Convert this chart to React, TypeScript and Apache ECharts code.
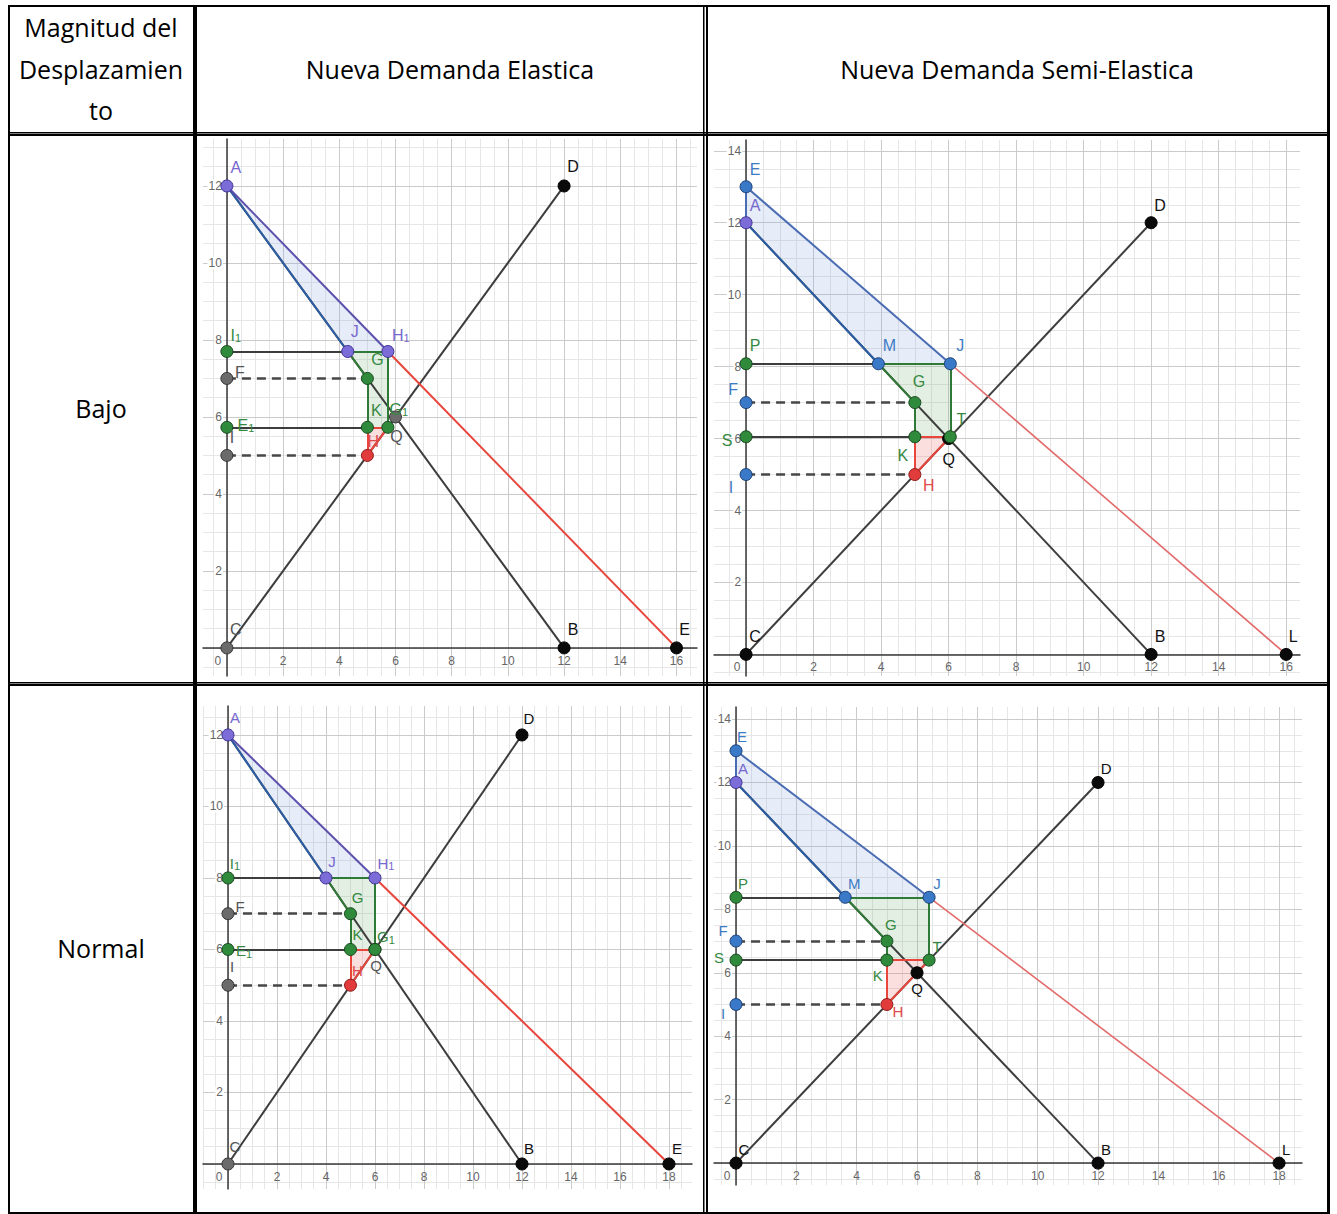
import React, { useEffect, useRef } from 'react';
import * as echarts from 'echarts';

type Pt = [string, number, number];
type Seg = [string, string, string];
type Area = [string[], string];

// ---------- tick labels ----------
const xTicks16 = [0, 2, 4, 6, 8, 10, 12, 14, 16];
const xTicks18 = [0, 2, 4, 6, 8, 10, 12, 14, 16, 18];
const yTicks12 = [2, 4, 6, 8, 10, 12];
const yTicks14 = [2, 4, 6, 8, 10, 12, 14];

// ---------- Panel 1: Bajo / Nueva Demanda Elastica ----------
const bajoElasticaPoints: Pt[] = [
  ['A', 0, 12], ['D', 12, 12], ['B', 12, 0], ['E', 16, 0], ['C', 0, 0],
  ['J', 4.3, 7.7], ['H1', 5.73, 7.7], ['I1', 0, 7.7], ['F', 0, 7], ['G', 5, 7],
  ['E1', 0, 5.73], ['K', 5, 5.73], ['Q', 6, 6], ['G1', 5.73, 5.73], ['I', 0, 5], ['H', 5, 5],
];
const bajoElasticaRoles: Record<string, string> = {
  A: 'purple', D: 'black', B: 'black', E: 'black', C: 'gray', J: 'purple', H1: 'purple', I1: 'green',
  F: 'gray', G: 'green', E1: 'green', K: 'green', G1: 'green', Q: 'gray', I: 'gray', H: 'red',
};
const bajoElasticaSegments: Seg[] = [
  ['C', 'D', 'dark'], ['A', 'B', 'dark'], ['A', 'J', 'blue'], ['J', 'G', 'green'],
  ['A', 'H1', 'purple'], ['H1', 'E', 'red'],
  ['I1', 'J', 'dark'], ['J', 'H1', 'green'], ['H1', 'G1', 'green'],
  ['G', 'K', 'green'], ['E1', 'K', 'dark'], ['K', 'G1', 'red'], ['K', 'H', 'red'], ['H', 'G1', 'red'],
  ['F', 'G', 'dash'], ['I', 'H', 'dash'],
];
const bajoElasticaAreas: Area[] = [
  [['A', 'J', 'H1'], 'blue'], [['J', 'H1', 'G1', 'K', 'G'], 'green'], [['K', 'G1', 'H'], 'red'],
];
const bajoElasticaLabelOffsets: Record<string, [number, number]> = {
  A: [9, -18], D: [9, -19], B: [9, -18], E: [8, -18], C: [9, -18], J: [7, -20], H1: [13, -16],
  I1: [9, -16], F: [13, -6], G: [10, -19], E1: [19, -2], K: [9, -17], G1: [11, -18], Q: [1, 20],
  I: [5, -18], H: [6, -14],
};

// ---------- Panel 2: Bajo / Nueva Demanda Semi-Elastica ----------
const bajoSemiPoints: Pt[] = [
  ['E', 0, 13], ['A', 0, 12], ['D', 12, 12], ['B', 12, 0], ['L', 16, 0], ['C', 0, 0],
  ['P', 0, 8.08], ['M', 3.92, 8.08], ['J', 6.05, 8.08], ['F', 0, 7], ['G', 5, 7],
  ['S', 0, 6.05], ['K', 5, 6.05], ['Q', 6, 6], ['T', 6.05, 6.05], ['I', 0, 5], ['H', 5, 5],
];
const bajoSemiRoles: Record<string, string> = {
  E: 'blue', A: 'purple', D: 'black', B: 'black', L: 'black', C: 'black', P: 'green', M: 'blue',
  J: 'blue', F: 'blue', G: 'green', S: 'green', K: 'green', T: 'green', Q: 'black', I: 'blue', H: 'red',
};
const bajoSemiSegments: Seg[] = [
  ['C', 'D', 'dark'], ['A', 'B', 'dark'], ['A', 'M', 'blue'], ['M', 'G', 'green'],
  ['E', 'J', 'blue2'], ['J', 'L', 'redLight'], ['E', 'A', 'blue2'],
  ['P', 'M', 'dark'], ['M', 'J', 'green'], ['J', 'T', 'green'],
  ['G', 'K', 'green'], ['S', 'K', 'dark'], ['K', 'T', 'red'], ['K', 'H', 'red'], ['H', 'T', 'red'],
  ['F', 'G', 'dash'], ['I', 'H', 'dash'],
];
const bajoSemiAreas: Area[] = [
  [['E', 'J', 'M', 'A'], 'blue'], [['M', 'J', 'T', 'K', 'G'], 'green'], [['K', 'T', 'H'], 'red'],
];
const bajoSemiLabelOffsets: Record<string, [number, number]> = {
  E: [9, -17], A: [9, -17], D: [9, -17], B: [9, -18], L: [7, -18], C: [9, -18], P: [9, -18],
  M: [11, -18], J: [10, -18], F: [-13, -13], G: [4, -21], T: [11, -17], S: [-19, 4], K: [-12, 19],
  Q: [0, 21], I: [-15, 13], H: [14, 11],
};

// ---------- Panel 3: Normal / Nueva Demanda Elastica ----------
const normalElasticaPoints: Pt[] = [
  ['A', 0, 12], ['D', 12, 12], ['B', 12, 0], ['E', 18, 0], ['C', 0, 0],
  ['J', 4, 8], ['H1', 6, 8], ['I1', 0, 8], ['F', 0, 7], ['G', 5, 7],
  ['E1', 0, 6], ['K', 5, 6], ['Q', 6, 6], ['G1', 6, 6], ['I', 0, 5], ['H', 5, 5],
];
const normalElasticaRoles: Record<string, string> = {
  A: 'purple', D: 'black', B: 'black', E: 'black', C: 'gray', J: 'purple', H1: 'purple', I1: 'green',
  F: 'gray', G: 'green', E1: 'green', K: 'green', G1: 'green', Q: 'gray', I: 'gray', H: 'red',
};
const normalElasticaSegments: Seg[] = [
  ['C', 'D', 'dark'], ['A', 'B', 'dark'], ['A', 'J', 'blue'], ['J', 'G', 'green'],
  ['A', 'H1', 'purple'], ['H1', 'E', 'red'],
  ['I1', 'J', 'dark'], ['J', 'H1', 'green'], ['H1', 'G1', 'green'],
  ['G', 'K', 'green'], ['E1', 'K', 'dark'], ['K', 'G1', 'red'], ['K', 'H', 'red'], ['H', 'G1', 'red'],
  ['F', 'G', 'dash'], ['I', 'H', 'dash'],
];
const normalElasticaAreas: Area[] = [
  [['A', 'J', 'H1'], 'blue'], [['J', 'H1', 'G1', 'K', 'G'], 'green'], [['K', 'G1', 'H'], 'red'],
];
const normalElasticaLabelOffsets: Record<string, [number, number]> = {
  A: [7, -17], D: [7, -16], B: [7, -15], E: [8, -15], C: [7, -17], J: [6, -16], H1: [11, -14],
  I1: [7, -14], F: [12, -7], G: [7, -16], E1: [16, 2], K: [7, -14], G1: [11, -12], Q: [1, 17],
  I: [4, -18], H: [7, -14],
};

// ---------- Panel 4: Normal / Nueva Demanda Semi-Elastica ----------
const normalSemiPoints: Pt[] = [
  ['E', 0, 13], ['A', 0, 12], ['D', 12, 12], ['B', 12, 0], ['L', 18, 0], ['C', 0, 0],
  ['P', 0, 8.38], ['M', 3.62, 8.38], ['J', 6.4, 8.38], ['F', 0, 7], ['G', 5, 7],
  ['S', 0, 6.4], ['K', 5, 6.4], ['T', 6.4, 6.4], ['Q', 6, 6], ['I', 0, 5], ['H', 5, 5],
];
const normalSemiRoles: Record<string, string> = {
  E: 'blue', A: 'purple', D: 'black', B: 'black', L: 'black', C: 'black', P: 'green', M: 'blue',
  J: 'blue', F: 'blue', G: 'green', S: 'green', K: 'green', T: 'green', Q: 'black', I: 'blue', H: 'red',
};
const normalSemiSegments: Seg[] = [
  ['C', 'D', 'dark'], ['A', 'B', 'dark'], ['A', 'M', 'blue'], ['M', 'G', 'green'],
  ['E', 'J', 'blue2'], ['J', 'L', 'redLight'], ['E', 'A', 'blue2'],
  ['P', 'M', 'dark'], ['M', 'J', 'green'], ['J', 'T', 'green'],
  ['G', 'K', 'green'], ['S', 'K', 'dark'], ['K', 'T', 'red'], ['K', 'H', 'red'], ['H', 'T', 'red'],
  ['F', 'G', 'dash'], ['I', 'H', 'dash'],
];
const normalSemiAreas: Area[] = [
  [['E', 'J', 'M', 'A'], 'blue'], [['M', 'J', 'T', 'K', 'G'], 'green'], [['K', 'T', 'H'], 'red'],
];
const normalSemiLabelOffsets: Record<string, [number, number]> = {
  E: [6, -14], A: [7, -13], D: [8, -13], B: [8, -13], L: [7, -13], C: [8, -13], P: [7, -13],
  M: [9, -13], J: [8, -13], F: [-13, -10], G: [4, -16], T: [8, -13], S: [-17, -2], K: [-9, 16],
  Q: [0, 16], I: [-13, 9], H: [11, 7],
};

// ---------- table texts ----------
const headerLines = ['Magnitud del', 'Desplazamien', 'to'];
const columnTitles = ['Nueva Demanda Elastica', 'Nueva Demanda Semi-Elastica'];
const rowTitles = ['Bajo', 'Normal'];

// ---------- styles ----------
const pointStyles: Record<string, { fill: string; border: string; text: string }> = {
  purple: { fill: '#7b6cd8', border: '#3e3192', text: '#7668cf' },
  blue: { fill: '#3a78c8', border: '#1c4177', text: '#3d7cc4' },
  green: { fill: '#2f8a3c', border: '#17471d', text: '#35893f' },
  gray: { fill: '#6b6b6b', border: '#333333', text: '#555555' },
  black: { fill: '#0a0a0a', border: '#000000', text: '#111111' },
  red: { fill: '#e23b3b', border: '#8c1c1c', text: '#e04a4a' },
};
const segStyles: Record<string, any> = {
  dark: { color: '#3d3d3d', width: 2, type: 'solid' },
  blue: { color: '#2b5ea6', width: 2, type: 'solid' },
  blue2: { color: '#4a6cb3', width: 2, type: 'solid' },
  purple: { color: '#5d50ad', width: 2, type: 'solid' },
  red: { color: '#e8453c', width: 2, type: 'solid' },
  redLight: { color: '#e36b6b', width: 1.6, type: 'solid' },
  green: { color: '#2f7a36', width: 2, type: 'solid' },
  dash: { color: '#474747', width: 2.5, type: [9, 6] },
};
const areaFills: Record<string, string> = {
  blue: 'rgba(140,170,225,0.22)',
  green: 'rgba(120,175,120,0.20)',
  red: 'rgba(235,110,110,0.22)',
};

const panels = [
  {
    points: bajoElasticaPoints, roles: bajoElasticaRoles, segments: bajoElasticaSegments,
    areas: bajoElasticaAreas, offsets: bajoElasticaLabelOffsets,
    xRange: [-0.85, 16.73], yRange: [-0.73, 13.22], xTicks: xTicks16, yTicks: yTicks12,
    box: { left: 203, top: 139, width: 494, height: 537 }, fs: 16,
  },
  {
    points: bajoSemiPoints, roles: bajoSemiRoles, segments: bajoSemiSegments,
    areas: bajoSemiAreas, offsets: bajoSemiLabelOffsets,
    xRange: [-0.95, 16.41], yRange: [-0.6, 14.3], xTicks: xTicks16, yTicks: yTicks14,
    box: { left: 714, top: 140, width: 586, height: 536 }, fs: 16,
  },
  {
    points: normalElasticaPoints, roles: normalElasticaRoles, segments: normalElasticaSegments,
    areas: normalElasticaAreas, offsets: normalElasticaLabelOffsets,
    xRange: [-1.02, 18.94], yRange: [-0.7, 12.81], xTicks: xTicks18, yTicks: yTicks12,
    box: { left: 203, top: 706, width: 489, height: 483 }, fs: 15,
  },
  {
    points: normalSemiPoints, roles: normalSemiRoles, segments: normalSemiSegments,
    areas: normalSemiAreas, offsets: normalSemiLabelOffsets,
    xRange: [-0.73, 18.76], yRange: [-0.69, 14.38], xTicks: xTicks18, yTicks: yTicks14,
    box: { left: 714, top: 707, width: 588, height: 478 }, fs: 15,
  },
];

function labelText(name: string) {
  const m = name.match(/^([A-Z])(\d+)$/);
  if (m) return `{b|${m[1]}}{s|${m[2]}}`;
  return `{b|${name}}`;
}

function gridLines(xr: number[], yr: number[], major: boolean) {
  const out: any[] = [];
  const step = 0.5;
  for (let v = Math.ceil(xr[0] / step) * step; v <= xr[1]; v += step) {
    const isMajor = Math.abs(v / 2 - Math.round(v / 2)) < 1e-6;
    if (isMajor === major) out.push({ coords: [[v, yr[0]], [v, yr[1]]] });
  }
  for (let v = Math.ceil(yr[0] / step) * step; v <= yr[1]; v += step) {
    const isMajor = Math.abs(v / 2 - Math.round(v / 2)) < 1e-6;
    if (isMajor === major) out.push({ coords: [[xr[0], v], [xr[1], v]] });
  }
  return out;
}

function buildOption() {
  const grid: any[] = [];
  const xAxis: any[] = [];
  const yAxis: any[] = [];
  const series: any[] = [];

  panels.forEach((p, i) => {
    const pm: Record<string, number[]> = {};
    p.points.forEach(([n, x, y]) => { pm[n] = [x, y]; });

    // distance from grid edge to the zero lines, so the axes sit at x=0 / y=0
    const xAxisShift = -p.box.height * (0 - p.yRange[0]) / (p.yRange[1] - p.yRange[0]);
    const yAxisShift = -p.box.width * (0 - p.xRange[0]) / (p.xRange[1] - p.xRange[0]);

    grid.push({ ...p.box, containLabel: false, outerBoundsMode: 'none' });
    xAxis.push({
      gridIndex: i, type: 'value', min: p.xRange[0], max: p.xRange[1], z: 1,
      position: 'bottom', offset: xAxisShift,
      axisLine: { onZero: false, lineStyle: { color: '#3a3a3a', width: 1.5 } },
      axisTick: { show: false },
      splitLine: { show: false },
      axisLabel: {
        customValues: p.xTicks, color: '#666', fontSize: 12, margin: 7,
        fontFamily: 'Liberation Sans',
        formatter: (v: number) => (v === 0 ? '{z|0}' : String(v)),
        rich: { z: { color: '#666', fontSize: 12, padding: [0, 18, 0, 0] } },
      },
    });
    yAxis.push({
      gridIndex: i, type: 'value', min: p.yRange[0], max: p.yRange[1], z: 1,
      position: 'left', offset: yAxisShift,
      axisLine: { onZero: false, lineStyle: { color: '#3a3a3a', width: 1.5 } },
      axisTick: { show: false },
      splitLine: { show: false },
      axisLabel: {
        customValues: p.yTicks, color: '#666', fontSize: 12, margin: 4,
        fontFamily: 'Liberation Sans', backgroundColor: '#fff', padding: [0, 1],
      },
    });

    series.push({
      type: 'lines', coordinateSystem: 'cartesian2d', xAxisIndex: i, yAxisIndex: i,
      z: 0, silent: true, lineStyle: { color: '#e6e6e6', width: 1, opacity: 1 },
      data: gridLines(p.xRange, p.yRange, false),
    });
    series.push({
      type: 'lines', coordinateSystem: 'cartesian2d', xAxisIndex: i, yAxisIndex: i,
      z: 0, silent: true, lineStyle: { color: '#cbcbcb', width: 1, opacity: 1 },
      data: gridLines(p.xRange, p.yRange, true),
    });
    series.push({
      type: 'custom', xAxisIndex: i, yAxisIndex: i, z: 2, silent: true,
      data: p.areas.map((a) => pm[a[0][0]]),
      renderItem: (params: any, api: any) => {
        const a = p.areas[params.dataIndex];
        const pts = a[0].map((n) => api.coord(pm[n]));
        return { type: 'polygon', shape: { points: pts }, style: { fill: areaFills[a[1]], stroke: 'none' } };
      },
    });
    series.push({
      type: 'lines', coordinateSystem: 'cartesian2d', xAxisIndex: i, yAxisIndex: i,
      z: 3, silent: true,
      data: p.segments.map(([a, b, s]) => ({
        coords: [pm[a], pm[b]],
        lineStyle: { ...segStyles[s], opacity: 1, curveness: 0 },
      })),
    });
    series.push({
      type: 'scatter', xAxisIndex: i, yAxisIndex: i, z: 4, silent: true,
      symbolSize: 12,
      data: p.points.map(([n, x, y]) => {
        const st = pointStyles[p.roles[n]];
        const off = p.offsets[n] || [9, -17];
        return {
          name: n, value: [x, y],
          itemStyle: { color: st.fill, borderColor: st.border, borderWidth: 1, opacity: 1 },
          label: {
            show: true, position: 'inside', offset: off,
            formatter: labelText(n),
            rich: {
              b: { color: st.text, fontSize: p.fs, fontFamily: 'Liberation Sans', lineHeight: 16, verticalAlign: 'top' },
              s: { color: st.text, fontSize: 11, fontFamily: 'Liberation Sans', lineHeight: 12, verticalAlign: 'bottom', padding: [6, 0, 0, 0] },
            },
          },
        };
      }),
    });
  });

  const black = (x: number, y: number, w: number, h: number) => ({
    type: 'rect', shape: { x, y, width: w, height: h }, style: { fill: '#000' }, silent: true, z: 100,
  });
  const font = '25px "Open Sans"';
  const txt = (t: string, x: number, y: number) => ({
    type: 'text', z: 100, silent: true,
    style: { text: t, x, y, font, fill: '#000', textAlign: 'center', textVerticalAlign: 'middle' },
  });

  const graphic = [
    black(8, 5, 1322, 2),
    black(8, 5, 2, 1209),
    black(1327, 5, 3, 1209),
    black(8, 1212, 1322, 2),
    black(193, 5, 4, 1209),
    black(703, 5, 1.5, 1209),
    black(706, 5, 2, 1209),
    black(8, 132, 1322, 1.5),
    black(8, 134, 1322, 2),
    black(8, 682, 1322, 1.5),
    black(8, 684, 1322, 2),
    txt(headerLines[0], 101, 27),
    txt(headerLines[1], 101, 69),
    txt(headerLines[2], 101, 110),
    txt(columnTitles[0], 450, 69),
    txt(columnTitles[1], 1017, 69),
    txt(rowTitles[0], 101, 408),
    txt(rowTitles[1], 101, 948),
  ];

  return { animation: false, grid, xAxis, yAxis, series, graphic };
}

export default function App() {
  const ref = useRef<HTMLDivElement>(null);
  useEffect(() => {
    if (!ref.current) return;
    const chart = echarts.init(ref.current, null, { renderer: 'svg', width: 1337, height: 1214 });
    chart.setOption(buildOption() as any);
    return () => chart.dispose();
  }, []);
  return (
    <div
      ref={ref}
      style={{ position: 'absolute', left: 0, top: 0, width: 1337, height: 1214, background: '#fff' }}
    />
  );
}
